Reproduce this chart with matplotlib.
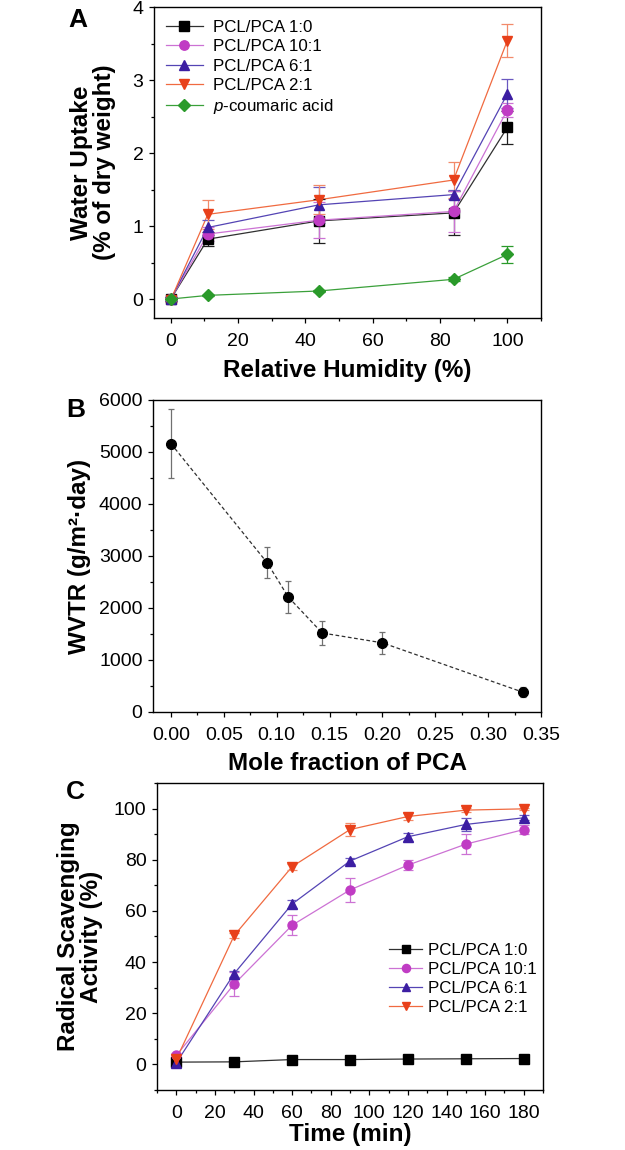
import matplotlib

matplotlib.use("Agg")
import matplotlib.pyplot as plt
from matplotlib.ticker import MultipleLocator

# ---- data ----
rh = [0, 11, 44, 84, 100]
uptake_10 = [0.0, 0.82, 1.07, 1.18, 2.35]
uptake_10_err = [0.03, 0.10, 0.30, 0.30, 0.22]
uptake_101 = [0.0, 0.89, 1.08, 1.20, 2.59]
uptake_101_err = [0.03, 0.10, 0.25, 0.28, 0.10]
uptake_61 = [0.0, 0.98, 1.29, 1.43, 2.81]
uptake_61_err = [0.03, 0.10, 0.25, 0.06, 0.20]
uptake_21 = [-0.01, 1.16, 1.36, 1.63, 3.54]
uptake_21_err = [0.03, 0.20, 0.20, 0.24, 0.23]
uptake_pca = [0.0, 0.05, 0.11, 0.27, 0.61]
uptake_pca_err = [0.0, 0.01, 0.01, 0.03, 0.11]

mole_frac = [0.0, 0.091, 0.111, 0.143, 0.2, 0.333]
wvtr = [5160, 2870, 2210, 1520, 1330, 380]
wvtr_err = [660, 300, 310, 230, 210, 100]

time_min = [0, 30, 60, 90, 120, 150, 180]
rsa_10 = [0.9, 1.0, 1.9, 1.9, 2.1, 2.2, 2.3]
rsa_10_err = [0.3, 0.5, 0.5, 0.4, 0.4, 0.4, 0.4]
rsa_101 = [3.5, 31.4, 54.4, 68.2, 77.9, 86.1, 91.8]
rsa_101_err = [0.8, 4.8, 4.0, 4.8, 2.0, 3.8, 1.8]
rsa_61 = [0.6, 35.5, 62.7, 79.5, 89.0, 93.8, 96.4]
rsa_61_err = [0.5, 1.2, 1.5, 1.0, 1.5, 2.5, 1.0]
rsa_21 = [2.0, 50.4, 77.3, 91.8, 96.9, 99.4, 99.9]
rsa_21_err = [0.5, 1.0, 1.2, 2.5, 1.5, 0.8, 0.5]

labels = ["PCL/PCA 1:0", "PCL/PCA 10:1", "PCL/PCA 6:1", "PCL/PCA 2:1"]

plt.rcParams["font.family"] = ["Liberation Sans", "DejaVu Sans"]
plt.rcParams["mathtext.fontset"] = "custom"
plt.rcParams["mathtext.rm"] = "Liberation Sans"
plt.rcParams["mathtext.it"] = "Liberation Sans:italic"

# (marker, marker colour, line colour, error colour)
styles = [
    ("s", "#000000", "#303030", "#202020"),
    ("o", "#c03cc4", "#cc72d4", "#cc72d4"),
    ("^", "#3c1ea2", "#5444b4", "#6a58c0"),
    ("v", "#e8401a", "#f06a40", "#f28a6a"),
]
green = ("D", "#2a9a2a", "#3aa03a", "#2a9a2a")


def style_axes(ax):
    for s in ax.spines.values():
        s.set_linewidth(1.0)
    ax.tick_params(which="both", direction="out", top=False, right=False,
                   labelsize=14, width=0.9)
    ax.tick_params(which="major", length=3.5, pad=4)
    ax.tick_params(which="minor", length=2.2)


def series(ax, x, y, err, st, label, ms, capsize):
    m, mc, lc, ec = st
    ax.plot(x, y, "-", color=lc, lw=0.9, zorder=2)
    ax.errorbar(x, y, yerr=err, fmt="none", ecolor=ec, elinewidth=0.9,
                capsize=capsize, capthick=0.9, zorder=3)
    ax.plot(x, y, linestyle="none", marker=m, color=mc, ms=ms, mec=mc, zorder=4)
    ax.plot([], [], "-", color=lc, lw=0.9, marker=m, mfc=mc, mec=mc, ms=ms * 0.9,
            label=label)


fig = plt.figure(figsize=(6.25, 11.5), dpi=100)
W, H = 625, 1150


def add_axes(l, r, t, b):
    return fig.add_axes([l / W, 1 - b / H, (r - l) / W, (b - t) / H])


# ---- panel A ----
ax = add_axes(154, 541, 7, 318)
for y, e, st, lab in zip([uptake_10, uptake_101, uptake_61, uptake_21],
                         [uptake_10_err, uptake_101_err, uptake_61_err, uptake_21_err],
                         styles, labels):
    series(ax, rh, y, e, st, lab, 7.5, 4)
series(ax, rh, uptake_pca, uptake_pca_err, green, r"$\it{p}$-coumaric acid", 6.5, 4)
ax.set_xlim(-5, 110)
ax.set_ylim(-0.26, 4)
ax.xaxis.set_major_locator(MultipleLocator(20))
ax.xaxis.set_minor_locator(MultipleLocator(10))
ax.yaxis.set_major_locator(MultipleLocator(1))
ax.yaxis.set_minor_locator(MultipleLocator(0.5))
style_axes(ax)
ax.tick_params(axis="x", pad=7)
ax.set_xlabel("Relative Humidity (%)", fontsize=17.5, fontweight="bold", labelpad=7)
ax.set_ylabel("Water Uptake\n(% of dry weight)", fontsize=17.5, fontweight="bold",
              labelpad=12, linespacing=1.0)
ax.legend(loc="upper left", bbox_to_anchor=(0.03, 0.958), frameon=False,
          fontsize=12.2, handlelength=2.2, handletextpad=0.6, labelspacing=0.25,
          borderpad=0, borderaxespad=0)
fig.text(68 / W, 1 - 20 / H, "A", fontsize=19, fontweight="bold", va="center")

# ---- panel B ----
ax = add_axes(153, 541, 400, 712)
ax.plot(mole_frac, wvtr, "--", color="#303030", lw=0.9, dashes=(3, 2), zorder=2)
ax.errorbar(mole_frac, wvtr, yerr=wvtr_err, fmt="none", ecolor="#707070",
            elinewidth=0.9, capsize=2.5, capthick=0.9, zorder=3)
ax.plot(mole_frac, wvtr, "o", color="black", ms=7, zorder=4)
ax.set_xlim(-0.017, 0.35)
ax.set_ylim(0, 6000)
ax.xaxis.set_major_locator(MultipleLocator(0.05))
ax.xaxis.set_minor_locator(MultipleLocator(0.025))
ax.yaxis.set_major_locator(MultipleLocator(1000))
ax.yaxis.set_minor_locator(MultipleLocator(500))
ax.xaxis.set_major_formatter(plt.FormatStrFormatter("%.2f"))
style_axes(ax)
ax.tick_params(axis="x", pad=7)
ax.set_xlabel("Mole fraction of PCA", fontsize=17.5, fontweight="bold", labelpad=6)
ax.set_ylabel("WVTR (g/m²·day)", fontsize=17.5, fontweight="bold", labelpad=6)
fig.text(66 / W, 1 - 410 / H, "B", fontsize=19, fontweight="bold", va="center")

# ---- panel C ----
ax = add_axes(157, 543, 783, 1090)
for y, e, st, lab in zip([rsa_10, rsa_101, rsa_61, rsa_21],
                         [rsa_10_err, rsa_101_err, rsa_61_err, rsa_21_err],
                         styles, labels):
    series(ax, time_min, y, e, st, lab, 6.5, 3.5)
ax.set_xlim(-10, 190)
ax.set_ylim(-10, 110)
ax.xaxis.set_major_locator(MultipleLocator(20))
ax.xaxis.set_minor_locator(MultipleLocator(10))
ax.yaxis.set_major_locator(MultipleLocator(20))
ax.yaxis.set_minor_locator(MultipleLocator(10))
style_axes(ax)
ax.tick_params(axis="x", pad=7)
ax.set_xlabel("Time (min)", fontsize=17.5, fontweight="bold", labelpad=1)
ax.set_ylabel("Radical Scavenging\nActivity (%)", fontsize=17.5, fontweight="bold",
              labelpad=8, linespacing=1.0)
ax.legend(loc="upper left", bbox_to_anchor=(0.6, 0.48), frameon=False,
          fontsize=12.2, handlelength=2.0, handletextpad=0.3, labelspacing=0.25,
          borderpad=0, borderaxespad=0)
fig.text(66 / W, 1 - 792 / H, "C", fontsize=19, fontweight="bold", va="center")

fig.savefig("out.png", dpi=100)
